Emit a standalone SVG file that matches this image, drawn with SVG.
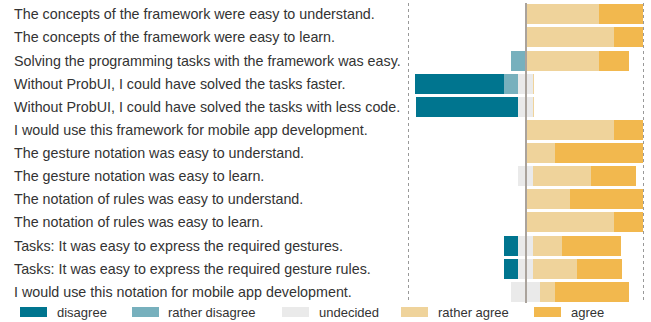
<svg xmlns="http://www.w3.org/2000/svg" width="651" height="322" viewBox="0 0 651 322">
<style>
text{font-family:"Liberation Sans",Arial,sans-serif;font-size:13px;fill:#333}
#labels text{font-size:14.3px}
.d{fill:#00758f}.rd{fill:#77b0bd}.u{fill:#eaeaea}.ra{fill:#efd39b}.a{fill:#f2b84e}
.grid{stroke:#999;stroke-width:1;stroke-dasharray:3,3;fill:none}
.ctr{stroke:#aaa39c;stroke-width:2}
</style>
<rect width="651" height="322" fill="#fff"/>
<g id="grid">
<line class="grid" x1="408.5" y1="3" x2="408.5" y2="303"/>
<line class="grid" x1="643.5" y1="3" x2="643.5" y2="303"/>
</g>
<g id="labels">
<text x="14" y="19">The concepts of the framework were easy to understand.</text>
<text x="14" y="42">The concepts of the framework were easy to learn.</text>
<text x="14" y="65.5">Solving the programming tasks with the framework was easy.</text>
<text x="14" y="88.5">Without ProbUI, I could have solved the tasks faster.</text>
<text x="14" y="111.5">Without ProbUI, I could have solved the tasks with less code.</text>
<text x="14" y="135">I would use this framework for mobile app development.</text>
<text x="14" y="158">The gesture notation was easy to understand.</text>
<text x="14" y="181">The gesture notation was easy to learn.</text>
<text x="14" y="204">The notation of rules was easy to understand.</text>
<text x="14" y="227">The notation of rules was easy to learn.</text>
<text x="14" y="250.5">Tasks: It was easy to express the required gestures.</text>
<text x="14" y="273.5">Tasks: It was easy to express the required gesture rules.</text>
<text x="14" y="296.5">I would use this notation for mobile app development.</text>
</g>
<g id="bars">
<g id="r1"><rect class="ra" x="526" y="4" width="73" height="20"/><rect class="a" x="599" y="4" width="44" height="20"/></g>
<g id="r2"><rect class="ra" x="526" y="27" width="88" height="20"/><rect class="a" x="614" y="27" width="29" height="20"/></g>
<g id="r3"><rect class="rd" x="511" y="51" width="15" height="20"/><rect class="ra" x="526" y="51" width="73" height="20"/><rect class="a" x="599" y="51" width="30" height="20"/></g>
<g id="r4"><rect class="d" x="415" y="74" width="89" height="20"/><rect class="rd" x="504" y="74" width="14" height="20"/><rect class="u" x="518" y="74" width="15" height="20"/><rect class="ra" x="533" y="74" width="1" height="20"/></g>
<g id="r5"><rect class="d" x="416" y="97" width="102" height="20"/><rect class="u" x="518" y="97" width="15" height="20"/><rect class="ra" x="533" y="97" width="1" height="20"/></g>
<g id="r6"><rect class="ra" x="526" y="120" width="88" height="20"/><rect class="a" x="614" y="120" width="29" height="20"/></g>
<g id="r7"><rect class="ra" x="526" y="143" width="29" height="20"/><rect class="a" x="555" y="143" width="88" height="20"/></g>
<g id="r8"><rect class="u" x="518" y="166" width="15" height="20"/><rect class="ra" x="533" y="166" width="58" height="20"/><rect class="a" x="591" y="166" width="45" height="20"/></g>
<g id="r9"><rect class="ra" x="526" y="189" width="44" height="20"/><rect class="a" x="570" y="189" width="73" height="20"/></g>
<g id="r10"><rect class="ra" x="526" y="212" width="88" height="20"/><rect class="a" x="614" y="212" width="29" height="20"/></g>
<g id="r11"><rect class="d" x="504" y="236" width="14" height="20"/><rect class="u" x="518" y="236" width="15" height="20"/><rect class="ra" x="533" y="236" width="29" height="20"/><rect class="a" x="562" y="236" width="59" height="20"/></g>
<g id="r12"><rect class="d" x="504" y="259" width="14" height="20"/><rect class="u" x="518" y="259" width="15" height="20"/><rect class="ra" x="533" y="259" width="44" height="20"/><rect class="a" x="577" y="259" width="45" height="20"/></g>
<g id="r13"><rect class="u" x="511" y="282" width="29" height="20"/><rect class="ra" x="540" y="282" width="15" height="20"/><rect class="a" x="555" y="282" width="74" height="20"/></g>
</g>
<g id="center"><line class="ctr" x1="526" y1="3" x2="526" y2="303"/></g>
<g id="legend">
<rect class="d" x="20" y="307" width="27" height="10"/><text x="57" y="317">disagree</text>
<rect class="rd" x="132" y="307" width="27" height="10"/><text x="168" y="317">rather disagree</text>
<rect class="u" x="282" y="307" width="27" height="10"/><text x="319" y="317">undecided</text>
<rect class="ra" x="401" y="307" width="27" height="10"/><text x="438" y="317">rather agree</text>
<rect class="a" x="534" y="307" width="27" height="10"/><text x="571" y="317">agree</text>
</g>
</svg>
